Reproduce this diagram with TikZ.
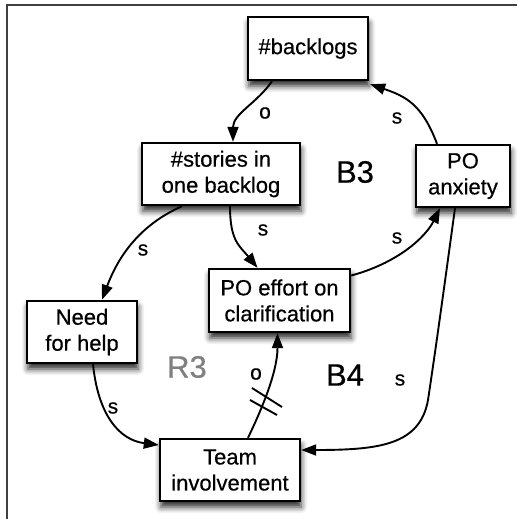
\documentclass[tikz,border=0pt]{standalone}
\usepackage{fontspec}
\setmainfont{Liberation Sans}
\newfontfamily\heavy{Liberation Sans}[FakeBold=0.5]
\usetikzlibrary{arrows.meta,shadows.blur}
\begin{document}
\begin{tikzpicture}[x=1pt,y=-1pt,
  box/.style={draw=black, line width=2.4pt, fill=white, align=center,
    font=\heavy\fontsize{22}{26}\selectfont, inner sep=0pt,
    blur shadow={shadow xshift=1pt,shadow yshift=-6pt,shadow blur radius=6pt,shadow opacity=85}},
  arr/.style={line width=1.9pt, -{Triangle[length=15pt,width=11pt]}},
  lab/.style={font=\heavy\fontsize{21}{21}\selectfont, inner sep=0pt},
  loopname/.style={font=\heavy\fontsize{31}{31}\selectfont, inner sep=0pt}]
\useasboundingbox (0,0) rectangle (517,519);
\draw[line width=1.5pt, black!75] (517,5) -- (7,5) -- (7,519);

\node[box, minimum width=120pt, minimum height=63pt] (back) at (308,48.5) {\#backlogs};
\node[box, minimum width=158pt, minimum height=62pt] (stor) at (221,174) {\#stories in\\one backlog};
\node[box, minimum width=94pt, minimum height=62pt] (anx) at (463,176) {PO\\anxiety};
\node[box, minimum width=141pt, minimum height=63pt] (eff) at (279.5,300.5) {PO effort on\\clarification};
\node[box, minimum width=110pt, minimum height=62pt] (need) at (82,332) {Need\\for help};
\node[box, minimum width=140pt, minimum height=62pt] (team) at (230,470) {Team\\involvement};

\draw[arr] ([xshift=-36pt]back.south) .. controls +(-15,22) and +(0,-28) .. ([xshift=12pt]stor.north);
\draw[arr] ([xshift=-26pt]anx.north) .. controls +(-15,-40) and +(35,12) .. ([xshift=1pt,yshift=-3pt]back.south east);
\draw[arr] ([xshift=-39pt]stor.south) .. controls +(-45,20) and +(15,-40) .. ([xshift=20pt]need.north);
\draw[arr] ([xshift=9pt]stor.south) .. controls +(0,35) and +(-18,-22) .. ([xshift=-22pt]eff.north);
\draw[arr] ([yshift=25pt]eff.east) .. controls +(45,-12) and +(-15,30) .. ([xshift=-23pt]anx.south);
\draw[arr] ([xshift=-8pt]anx.south) .. controls +(-10,73) and +(9,-60) .. (428,400) .. controls +(-8,45) and +(78,0) .. ([yshift=20pt]team.east);
\draw[arr] ([xshift=11pt]need.south) .. controls +(5,50) and +(-40,-5) .. ([yshift=25pt]team.west);
\draw[arr] ([xshift=18pt]team.north) .. controls +(12,-25) and +(0,40) .. ([xshift=-2pt]eff.south);
\draw[line width=1.9pt] (252,388) -- (282,407);
\draw[line width=1.9pt] (250,400) -- (277,415);

\node[lab] (l1) at (265,113) {o};
\node[lab] (l2) at (397,118) {s};
\node[lab] (l3) at (143,250) {s};
\node[lab] (l4) at (263,230) {s};
\node[lab] (l5) at (397,238) {s};
\node[lab] (l6) at (400,380) {s};
\node[lab] (l7) at (113,408) {s};
\node[lab] (l8) at (256,374) {o};

\node[loopname] (b3) at (355,172) {B3};
\node[loopname, text=black!50] (r3) at (187,367) {R3};
\node[loopname] (b4) at (345,375) {B4};
\end{tikzpicture}
\end{document}
